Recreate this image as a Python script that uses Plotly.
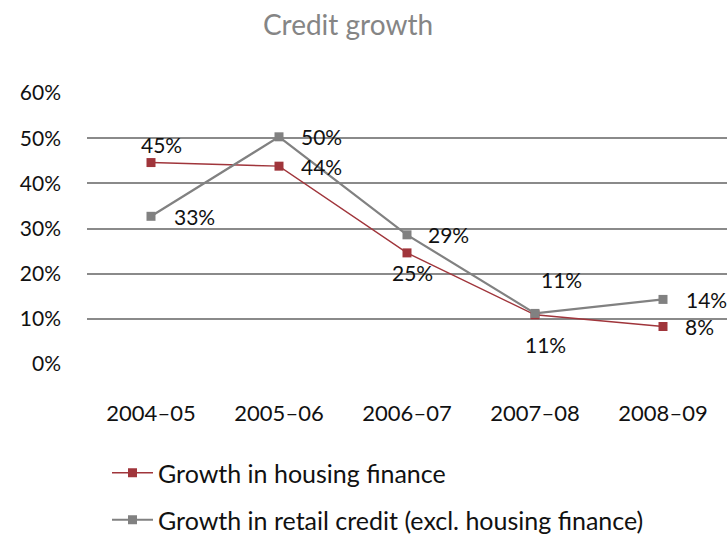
import plotly.graph_objects as go

# Financial years on the category axis
years = ["2004–05", "2005–06", "2006–07", "2007–08", "2008–09"]

# Year-on-year growth rates (%)
housing = [44.6, 43.8, 24.6, 10.9, 8.3]
retail = [32.7, 50.3, 28.6, 11.2, 14.3]

housing_name = "Growth in housing finance"
retail_name = "Growth in retail credit (excl. housing finance)"

y_ticks = [0, 10, 20, 30, 40, 50, 60]

# Value-label placement per point: (xanchor, xshift, yshift)
housing_label_pos = [("center", 10, 18), ("left", 20, 0), ("center", 5, -20),
                     ("center", 10, -30), ("left", 20, 0)]
retail_label_pos = [("left", 21, 0), ("left", 20, 0), ("left", 19, 0),
                    ("center", 26, 34), ("left", 21, 0)]

RED = "#a0353b"
GREY = "#818181"
FONT = "Lato, Calibri, sans-serif"
LABEL_SIZE = 21

fig = go.Figure()
fig.add_trace(go.Scatter(
    x=years, y=housing, name=housing_name, mode="lines+markers",
    line=dict(color=RED, width=1.4),
    marker=dict(symbol="square", size=9, color=RED),
    legend="legend",
))
fig.add_trace(go.Scatter(
    x=years, y=retail, name=retail_name, mode="lines+markers",
    line=dict(color=GREY, width=2.2),
    marker=dict(symbol="square", size=9, color=GREY),
    legend="legend2",
))

annotations = []
for series, pos in ((housing, housing_label_pos), (retail, retail_label_pos)):
    for x, v, (anchor, dx, dy) in zip(years, series, pos):
        annotations.append(dict(
            x=x, y=v, xref="x", yref="y", text=f"{round(v)}%",
            showarrow=False, xanchor=anchor, yanchor="middle",
            xshift=dx, yshift=dy,
            font=dict(family=FONT, size=LABEL_SIZE, color="#111111"),
        ))

legend_style = dict(
    xref="container", yref="container", xanchor="left", yanchor="middle",
    itemwidth=41,
    font=dict(family=FONT, size=25, color="#111111"),
    bgcolor="rgba(0,0,0,0)",
)

fig.update_layout(
    width=728, height=534,
    margin=dict(l=87, r=1, t=93, b=170, autoexpand=False),
    paper_bgcolor="white", plot_bgcolor="white",
    title=dict(
        text="Credit growth", x=348 / 728, xanchor="center",
        y=1 - 25 / 534, yanchor="middle", xref="container", yref="container",
        font=dict(family="Lato, 'Gill Sans', sans-serif", size=28, color="#858585"),
    ),
    font=dict(family=FONT, size=LABEL_SIZE, color="#111111"),
    xaxis=dict(
        type="category", range=[-0.5, len(years) - 0.5],
        showgrid=False, zeroline=False, showline=False,
        ticks="", ticklabelstandoff=34, tickangle=0,
        tickfont=dict(family=FONT, size=22, color="#111111"),
    ),
    yaxis=dict(
        range=[0, 60], tickvals=y_ticks, ticktext=[f"{t}%" for t in y_ticks],
        showgrid=True, gridcolor="#8a8a8a", gridwidth=1.6,
        zeroline=False, showline=False, ticks="", ticklabelstandoff=25,
        tickfont=dict(family=FONT, size=21, color="#111111"),
    ),
    legend=dict(x=107 / 728, y=1 - 473 / 534, **legend_style),
    legend2=dict(x=107 / 728, y=1 - 520 / 534, **legend_style),
    annotations=annotations,
    showlegend=True,
)

fig.write_html("out.html")
